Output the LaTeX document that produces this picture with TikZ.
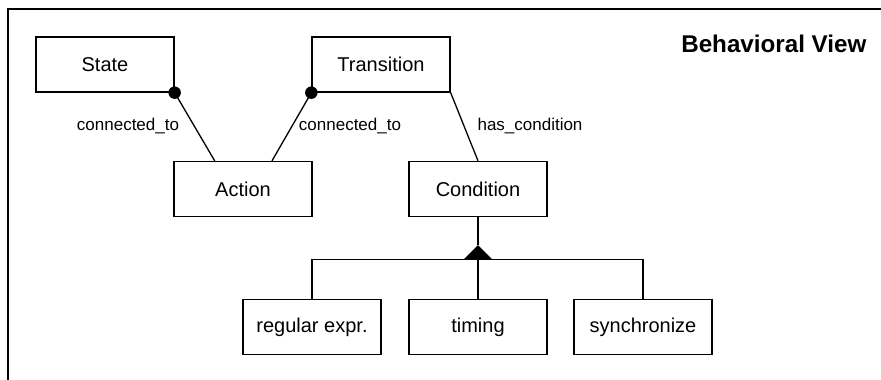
\documentclass[tikz,border=0pt]{standalone}
\usepackage{fontspec}
\setmainfont{Liberation Sans}
\usetikzlibrary{calc}
\begin{document}
\begin{tikzpicture}[x=1pt,y=-1pt,
  entity/.style={draw,line width=1.3pt,minimum width=138pt,minimum height=55pt,
    inner sep=0pt,font=\fontsize{20}{23}\selectfont},
  rel/.style={line width=1.3pt},
  lbl/.style={font=\fontsize{17}{20}\selectfont,inner sep=0pt},
  dotend/.style={fill=black,circle,minimum size=12.5pt,inner sep=0pt}]
  \useasboundingbox (0,0) rectangle (881,380);
  % view frame (open towards the lower right)
  \draw[line width=1.5pt] (881,9) -- (8,9) -- (8,380);
  \node[anchor=base east,font=\fontsize{24.2}{28}\selectfont\bfseries] (title) at (870,52) {Behavioral View};
  % entities
  \node[entity] (State) at (105,64.5) {State};
  \node[entity] (Transition) at (381,64.5) {Transition};
  \node[entity] (Action) at (243,189) {Action};
  \node[entity] (Condition) at (478,189) {Condition};
  \node[entity] (RegExpr) at (312,327) {regular expr.};
  \node[entity] (Timing) at (478,327) {timing};
  \node[entity] (Sync) at (643,327) {synchronize};
  % associations
  \coordinate (aL) at ($(Action.north west)!0.297!(Action.north east)$);
  \coordinate (aR) at ($(Action.north west)!0.708!(Action.north east)$);
  \draw[rel] (State.south east) -- (aL);
  \draw[rel] (Transition.south west) -- (aR);
  \draw[rel] (Transition.south east) -- (Condition.north);
  \node[dotend] (d1) at (State.south east) {};
  \node[dotend] (d2) at (Transition.south west) {};
  \node[lbl] (l1) at (128,126) {connected\_to};
  \node[lbl] (l2) at (350,126) {connected\_to};
  \node[lbl] (l3) at (530,126) {has\_condition};
  % generalization
  \coordinate (apex) at ($(Condition.south)+(0,28)$);
  \coordinate (bus) at ($(Condition.south)+(0,42)$);
  \draw[rel] (Condition.south) -- (apex);
  \fill (apex) -- ($(bus)+(-14,0)$) -- ($(bus)+(14,0)$) -- cycle;
  \draw[rel] (RegExpr.north) |- (bus) -| (Sync.north);
  \draw[rel] (bus) -- (Timing.north);
\end{tikzpicture}
\end{document}
